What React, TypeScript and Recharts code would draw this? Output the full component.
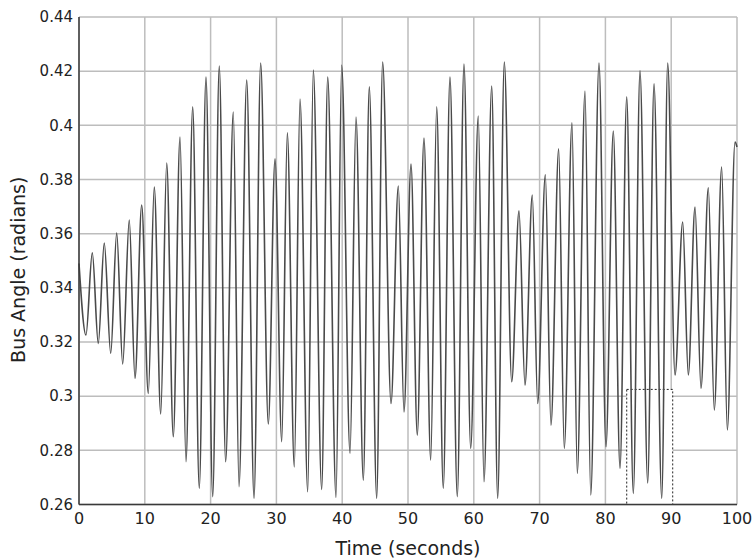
import React from 'react';
import { LineChart, Line, XAxis, YAxis, CartesianGrid, ReferenceArea, Label } from 'recharts';

// turning points of the bus angle trace (seconds, radians)
const startPoint = { t: 0, angle: 0.349 };
const endPoint = { t: 100, angle: 0.392 };

const troughTimes = [
  1.06, 2.93, 4.82, 6.64, 8.51, 10.53, 12.42, 14.33, 16.26, 18.28, 20.32, 22.29, 24.32, 26.6, 28.77, 30.81, 32.72,
  34.76, 36.88, 39.06, 41.19, 43.21, 45.24, 47.42, 49.39, 51.41, 53.45, 55.36, 57.49, 59.53, 61.55, 63.63, 65.76,
  67.78, 69.71, 71.73, 73.75, 75.73, 77.77, 80.09, 82.22, 84.24, 86.43, 88.56, 90.58, 92.6, 94.53, 96.55, 98.53,
];
const troughAngles = [
  0.3226, 0.3195, 0.3158, 0.3119, 0.3066, 0.301, 0.2934, 0.285, 0.2758, 0.266, 0.2629, 0.2758, 0.2666, 0.2623,
  0.2897, 0.2832, 0.2739, 0.2647, 0.2656, 0.2626, 0.2789, 0.269, 0.2623, 0.2973, 0.2942, 0.2856, 0.2764, 0.266,
  0.2629, 0.2807, 0.2684, 0.2623, 0.3053, 0.3041, 0.2973, 0.2893, 0.2807, 0.2715, 0.2635, 0.2813, 0.2733, 0.2641,
  0.268, 0.2623, 0.3078, 0.3078, 0.3029, 0.2949, 0.2875,
];

const peakTimes = [
  2.02, 3.84, 5.73, 7.64, 9.53, 11.44, 13.33, 15.35, 17.28, 19.3, 21.32, 23.45, 25.49, 27.61, 29.79, 31.66, 33.59,
  35.61, 37.8, 39.92, 42.1, 44.12, 46.15, 48.53, 50.46, 52.43, 54.36, 56.38, 58.51, 60.68, 62.72, 64.64, 66.87,
  68.89, 70.87, 72.9, 74.92, 76.9, 79.03, 81.2, 83.24, 85.26, 87.39, 89.47, 91.75, 93.62, 95.64, 97.67, 99.7,
];
const peakAngles = [
  0.3529, 0.3565, 0.3602, 0.365, 0.3706, 0.3772, 0.3861, 0.3957, 0.4068, 0.4178, 0.4219, 0.4049, 0.4167, 0.423,
  0.3876, 0.3972, 0.4097, 0.4204, 0.4178, 0.4223, 0.4031, 0.4142, 0.4234, 0.3776, 0.3857, 0.3953, 0.4068, 0.4178,
  0.4226, 0.4034, 0.4145, 0.4234, 0.3684, 0.3743, 0.3817, 0.3913, 0.4009, 0.4127, 0.423, 0.3979, 0.4105, 0.4201,
  0.4153, 0.423, 0.3643, 0.3698, 0.3769, 0.3846, 0.3938,
];

const xTicks = [0, 10, 20, 30, 40, 50, 60, 70, 80, 90, 100];
const yTicks = [0.26, 0.28, 0.3, 0.32, 0.34, 0.36, 0.38, 0.4, 0.42, 0.44];

// scan artefact: pasted-in box around 84-90 s
const insetBox = { x1: 83.24, x2: 90.23, y1: 0.26, y2: 0.3025 };

const data = [startPoint];
troughTimes.forEach((t, i) => {
  data.push({ t, angle: troughAngles[i] });
  data.push({ t: peakTimes[i], angle: peakAngles[i] });
});
data.push(endPoint);

const font = '"DejaVu Sans", sans-serif';
const frame = '#3a3a3a';

const YTitle = (props: any) => {
  const vb = props.viewBox || { x: 0, y: 0, height: 0 };
  const x = vb.x - 15;
  const y = vb.y + vb.height / 2 + 9;
  return (
    <text
      x={x}
      y={y}
      transform={`rotate(-90, ${x}, ${y})`}
      textAnchor="middle"
      dominantBaseline="central"
      fontSize={19}
      fontFamily={font}
      fill="#222"
    >
      Bus Angle (radians)
    </text>
  );
};

export default function App() {
  return (
    <div style={{ position: 'absolute', left: 0, top: 0, width: 752, height: 560, background: '#fff' }}>
      <LineChart width={752} height={560} data={data} margin={{ top: 17, right: 15, bottom: 5.5, left: 33 }}>
        <CartesianGrid stroke="#bdbdbd" strokeWidth={1.5} />
        <XAxis
          dataKey="t"
          type="number"
          domain={[0, 100]}
          ticks={xTicks}
          interval={0}
          height={50}
          tickLine={false}
          tickSize={6}
          tickMargin={2}
          axisLine={{ stroke: frame, strokeWidth: 1.5 }}
          tick={{ fontSize: 16, fontFamily: font, fill: '#222' }}
          label={{ value: 'Time (seconds)', position: 'insideBottom', offset: 0, fontSize: 19, fontFamily: font, fill: '#222' }}
        />
        <XAxis
          xAxisId="top"
          orientation="top"
          dataKey="t"
          type="number"
          domain={[0, 100]}
          height={0}
          tick={false}
          tickLine={false}
          axisLine={{ stroke: frame, strokeWidth: 1.5 }}
        />
        <YAxis
          type="number"
          domain={[0.26, 0.44]}
          ticks={yTicks}
          interval={0}
          width={46}
          tickLine={false}
          tickSize={4}
          tickMargin={2}
          axisLine={{ stroke: frame, strokeWidth: 1.5 }}
          tick={{ fontSize: 15, fontFamily: font, fill: '#222' }}
          tickFormatter={(v: number) => String(+v.toFixed(2))}
        >
          <Label content={<YTitle />} />
        </YAxis>
        <YAxis
          yAxisId="right"
          orientation="right"
          type="number"
          domain={[0.26, 0.44]}
          width={0}
          tick={false}
          tickLine={false}
          axisLine={{ stroke: frame, strokeWidth: 1.5 }}
        />
        <ReferenceArea
          x1={insetBox.x1}
          x2={insetBox.x2}
          y1={insetBox.y1}
          y2={insetBox.y2}
          fill="#fff"
          fillOpacity={1}
          stroke="#222"
          strokeWidth={1}
          strokeDasharray="2 2"
        />
        <Line
          type="monotone"
          dataKey="angle"
          stroke="#4a4a4a"
          strokeWidth={1.6}
          dot={false}
          activeDot={false}
          isAnimationActive={false}
        />
      </LineChart>
    </div>
  );
}
